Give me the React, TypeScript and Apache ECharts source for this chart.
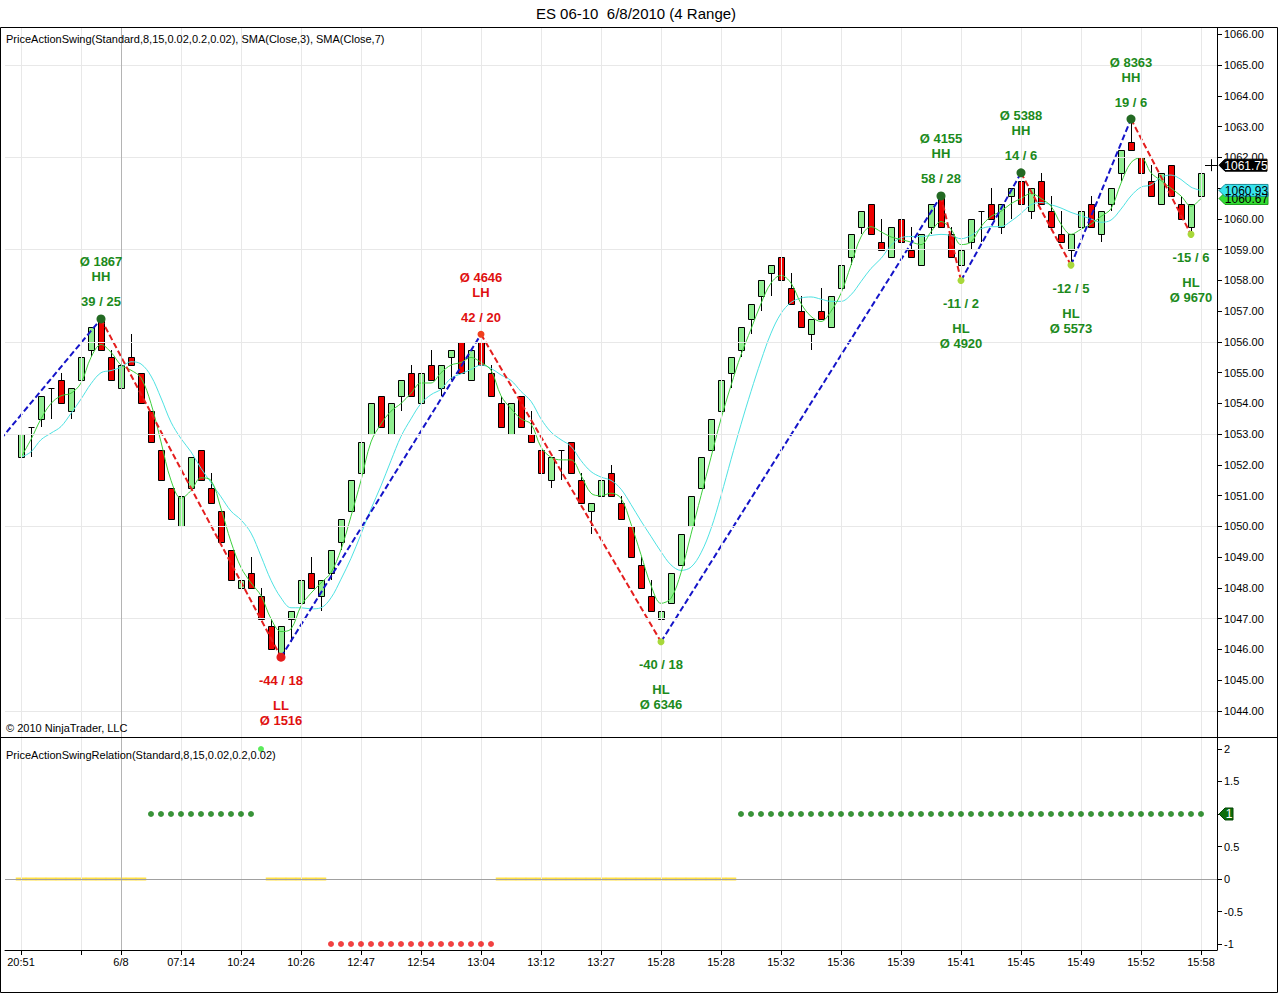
import React, { useEffect, useRef } from "react";
import * as echarts from "echarts";

// ---------- DATA ----------
// closes of the bars just before the visible window (needed by the SMAs)
const priorCloses = [1052.0, 1051.5, 1053.0, 1052.5, 1051.5, 1052.25];

const opens = [
  1052.25, 1053.25, 1053.5, 1054.5, 1054.75, 1053.75, 1054.75, 1055.75, 1056.75, 1055.5,
  1054.5, 1055.5, 1055.0, 1053.75, 1052.5, 1051.25, 1050.0, 1051.25, 1052.5, 1051.25,
  1050.5, 1049.25, 1048.0, 1048.5, 1047.75, 1046.75, 1045.75, 1047.0, 1047.5, 1048.5,
  1047.75, 1048.5, 1049.5, 1050.5, 1051.75, 1053.0, 1054.25, 1053.0, 1054.25, 1055.0,
  1054.0, 1055.25, 1054.5, 1055.5, 1056.0, 1054.75, 1056.0, 1055.0, 1054.0, 1053.0,
  1054.25, 1053.0, 1052.5, 1051.5, 1052.5, 1052.75, 1051.5, 1050.5, 1051.0, 1051.75,
  1050.75, 1050.0, 1048.75, 1047.75, 1047.0, 1047.5, 1048.75, 1050.0, 1051.25, 1052.5,
  1053.75, 1055.0, 1055.75, 1056.75, 1057.5, 1058.25, 1058.75, 1057.75, 1057.0, 1056.25,
  1057.0, 1056.5, 1057.75, 1058.75, 1059.75, 1060.5, 1059.25, 1058.75, 1060.0, 1059.0,
  1058.5, 1059.75, 1060.75, 1059.5, 1058.5, 1059.25, 1060.25, 1060.5, 1059.75, 1060.75,
  1061.25, 1060.25, 1061.25, 1060.25, 1059.5, 1059.0, 1059.75, 1060.5, 1059.5, 1060.5,
  1061.5, 1062.5, 1062.0, 1061.25, 1060.5, 1061.75, 1060.5, 1059.75, 1060.75,
];
const highs = [
  1053.0, 1053.25, 1054.25, 1054.5, 1055.0, 1054.5, 1055.5, 1056.5, 1056.75, 1055.75,
  1055.25, 1056.25, 1055.0, 1053.75, 1052.5, 1051.25, 1051.0, 1052.25, 1052.5, 1051.75,
  1050.5, 1049.25, 1048.25, 1049.0, 1048.0, 1047.0, 1046.75, 1047.25, 1048.25, 1049.0,
  1048.25, 1049.25, 1050.25, 1051.5, 1052.75, 1054.0, 1054.25, 1054.0, 1054.75, 1055.25,
  1055.0, 1055.75, 1055.25, 1055.75, 1056.0, 1055.75, 1056.25, 1055.25, 1054.25, 1054.0,
  1054.25, 1053.75, 1052.75, 1052.25, 1052.5, 1052.75, 1051.75, 1050.75, 1051.5, 1052.0,
  1051.0, 1050.0, 1049.0, 1048.25, 1047.25, 1048.5, 1049.75, 1051.0, 1052.25, 1053.5,
  1054.75, 1055.5, 1056.5, 1057.25, 1058.0, 1058.5, 1059.0, 1058.25, 1057.5, 1056.75,
  1057.75, 1057.5, 1058.5, 1059.5, 1060.25, 1060.5, 1060.0, 1059.75, 1060.25, 1059.75,
  1059.5, 1060.5, 1060.75, 1059.75, 1059.0, 1060.0, 1060.25, 1061.0, 1060.5, 1061.0,
  1061.5, 1061.0, 1061.5, 1060.75, 1060.25, 1059.5, 1060.25, 1060.75, 1060.25, 1061.0,
  1062.25, 1063.25, 1062.5, 1061.75, 1061.5, 1061.75, 1060.75, 1060.5, 1061.5,
];
const lows = [
  1052.0, 1052.25, 1053.25, 1053.5, 1054.0, 1053.5, 1054.5, 1055.5, 1055.75, 1054.75,
  1054.25, 1055.25, 1054.0, 1052.75, 1051.5, 1050.25, 1050.0, 1051.25, 1051.5, 1050.75,
  1049.5, 1048.25, 1047.25, 1048.0, 1047.0, 1046.0, 1045.75, 1046.25, 1047.25, 1048.0,
  1047.25, 1048.25, 1049.25, 1050.5, 1051.75, 1053.0, 1053.25, 1053.0, 1053.75, 1054.25,
  1054.0, 1054.75, 1054.25, 1054.75, 1055.0, 1054.75, 1055.25, 1054.25, 1053.25, 1053.0,
  1053.25, 1052.75, 1051.75, 1051.25, 1051.5, 1051.75, 1050.75, 1049.75, 1050.5, 1051.0,
  1050.25, 1049.0, 1048.0, 1047.25, 1046.25, 1047.5, 1048.75, 1050.0, 1051.25, 1052.5,
  1053.75, 1054.5, 1055.5, 1056.25, 1057.0, 1057.5, 1058.0, 1057.25, 1056.5, 1055.75,
  1056.75, 1056.5, 1057.5, 1058.5, 1059.5, 1059.5, 1059.0, 1058.75, 1059.25, 1058.75,
  1058.5, 1059.5, 1059.75, 1058.75, 1058.0, 1059.0, 1059.25, 1060.0, 1059.5, 1060.0,
  1060.5, 1060.0, 1060.5, 1059.75, 1059.25, 1058.5, 1059.75, 1059.75, 1059.25, 1060.25,
  1061.25, 1062.25, 1061.5, 1060.75, 1060.5, 1060.75, 1060.0, 1059.5, 1060.5,
];
const closes = [
  1053.0, 1053.25, 1054.25, 1054.5, 1054.0, 1054.5, 1055.5, 1056.5, 1055.75, 1054.75,
  1055.25, 1055.25, 1054.0, 1052.75, 1051.5, 1050.25, 1051.0, 1052.25, 1051.5, 1050.75,
  1049.5, 1048.25, 1048.25, 1048.0, 1047.0, 1046.0, 1046.75, 1047.25, 1048.25, 1048.0,
  1048.25, 1049.25, 1050.25, 1051.5, 1052.75, 1054.0, 1053.25, 1054.0, 1054.75, 1054.25,
  1055.0, 1054.75, 1055.25, 1055.75, 1055.0, 1055.75, 1055.25, 1054.25, 1053.25, 1054.0,
  1053.25, 1052.75, 1051.75, 1052.25, 1052.5, 1051.75, 1050.75, 1050.75, 1051.5, 1051.0,
  1050.25, 1049.0, 1048.0, 1047.25, 1047.25, 1048.5, 1049.75, 1051.0, 1052.25, 1053.5,
  1054.75, 1055.5, 1056.5, 1057.25, 1058.0, 1058.5, 1058.0, 1057.25, 1056.5, 1056.75,
  1056.75, 1057.5, 1058.5, 1059.5, 1060.25, 1059.5, 1059.0, 1059.75, 1059.25, 1058.75,
  1059.5, 1060.5, 1059.75, 1058.75, 1059.0, 1060.0, 1060.25, 1060.0, 1060.5, 1061.0,
  1060.5, 1061.0, 1060.5, 1059.75, 1059.25, 1059.5, 1060.25, 1059.75, 1060.25, 1061.0,
  1062.25, 1062.25, 1061.5, 1060.75, 1061.5, 1060.75, 1060.0, 1060.5, 1061.5,
];

// x axis ticks (bar index -> label)
const tickIdx = [0, 6, 10, 16, 22, 28, 34, 40, 46, 52, 58, 64, 70, 76, 82, 88, 94, 100, 106, 112, 118];
const tickLabels = [
  "20:51", "", "6/8", "07:14", "10:24", "10:26", "12:47", "12:54", "13:04", "13:12", "13:27",
  "15:28", "15:28", "15:32", "15:36", "15:39", "15:41", "15:45", "15:49", "15:52", "15:58",
];
const sessionBreakIdx = 10;

const priceTicks = [
  1044, 1045, 1046, 1047, 1048, 1049, 1050, 1051, 1052, 1053, 1054,
  1055, 1056, 1057, 1058, 1059, 1060, 1061, 1062, 1063, 1064, 1065, 1066,
];
const priceGridLines = [1044, 1047, 1050, 1053, 1056, 1059, 1062, 1065];
const relationTicks = [-1, -0.5, 0, 0.5, 1, 1.5, 2];

// swing points
const prevSwingIdx = -17;
const prevSwingPrice = 1047.0;
const swingIdx = [8, 26, 46, 64, 92, 94, 100, 105, 111, 117];
const swingPrice = [1056.75, 1045.75, 1056.25, 1046.25, 1060.75, 1058.0, 1061.5, 1058.5, 1063.25, 1059.5];
const swingType = ["HH", "LL", "LH", "HL", "HH", "HL", "HH", "HL", "HH", "HL"];
const swingMove = ["39 / 25", "-44 / 18", "42 / 20", "-40 / 18", "58 / 28", "-11 / 2", "14 / 6", "-12 / 5", "19 / 6", "-15 / 6"];
const swingVol = ["Ø 1867", "Ø 1516", "Ø 4646", "Ø 6346", "Ø 4155", "Ø 4920", "Ø 5388", "Ø 5573", "Ø 8363", "Ø 9670"];

// PriceActionSwingRelation values per bar
const relation = [
  0, 0, 0, 0, 0, 0, 0, 0, 0, 0,
  0, 0, 0, 1, 1, 1, 1, 1, 1, 1,
  1, 1, 1, 1, 2, 0, 0, 0, 0, 0,
  0, -1, -1, -1, -1, -1, -1, -1, -1, -1,
  -1, -1, -1, -1, -1, -1, -1, -1, 0, 0,
  0, 0, 0, 0, 0, 0, 0, 0, 0, 0,
  0, 0, 0, 0, 0, 0, 0, 0, 0, 0,
  0, 0, 1, 1, 1, 1, 1, 1, 1, 1,
  1, 1, 1, 1, 1, 1, 1, 1, 1, 1,
  1, 1, 1, 1, 1, 1, 1, 1, 1, 1,
  1, 1, 1, 1, 1, 1, 1, 1, 1, 1,
  1, 1, 1, 1, 1, 1, 1, 1, 1,
];

const lastPrice = 1061.75;

const titleText = "ES 06-10  6/8/2010 (4 Range)";
const mainLabel = "PriceActionSwing(Standard,8,15,0.02,0.2,0.02), SMA(Close,3), SMA(Close,7)";
const subLabel = "PriceActionSwingRelation(Standard,8,15,0.02,0.2,0.02)";
const copyright = "© 2010 NinjaTrader, LLC";

// ---------- STYLE ----------
const FONT = '"Liberation Sans", Arial, Helvetica, sans-serif';
const UP_FILL = "#90EE90";
const DOWN_FILL = "#EE0000";
const GREEN_TXT = "#1C8A1C";
const RED_TXT = "#E01010";
const X_MIN = -1.6;
const X_MAX = 119.6;

function smaOf(n: number) {
  const all = priorCloses.concat(closes);
  const off = priorCloses.length;
  return closes.map((_, i) => {
    let s = 0;
    for (let k = 0; k < n; k++) s += all[i + off - k];
    return [i, s / n];
  });
}

export default function App() {
  const ref = useRef<HTMLDivElement>(null);

  useEffect(() => {
    const el = ref.current;
    if (!el) return;
    const chart = echarts.init(el, null, { renderer: "svg" });

    const sma3 = smaOf(3);
    const sma7 = smaOf(7);

    const pivots: number[][] = [[prevSwingIdx, prevSwingPrice]].concat(
      swingIdx.map((x, k) => [x, swingPrice[k]])
    );
    const legSeries = pivots.slice(0, -1).map((p, k) => {
      const q = pivots[k + 1];
      const up = q[1] > p[1];
      return {
        type: "line",
        xAxisIndex: 0,
        yAxisIndex: 0,
        data: [p, q],
        showSymbol: false,
        symbol: "none",
        silent: true,
        clip: true,
        z: 4,
        lineStyle: { color: up ? "#1414C8" : "#E41E1E", width: 2, type: [6, 3] },
      };
    });

    const vGrid = tickIdx.map((v) => ({
      xAxis: v,
      lineStyle: { color: v === sessionBreakIdx ? "#B4B4B4" : "#E8E8E8", width: 1, type: "solid" },
    }));

    const markBase = {
      symbol: ["none", "none"],
      silent: true,
      label: { show: false },
      emphasis: { disabled: true },
      animation: false,
    };

    const option: any = {
      animation: false,
      backgroundColor: "#ffffff",
      textStyle: { fontFamily: FONT },
      grid: [
        { left: 5, right: 63, top: 28, height: 709, outerBoundsMode: "none", containLabel: false },
        { left: 5, right: 63, top: 738, height: 212, outerBoundsMode: "none", containLabel: false },
      ],
      xAxis: [
        {
          type: "value",
          gridIndex: 0,
          min: X_MIN,
          max: X_MAX,
          show: false,
          splitLine: { show: false },
        },
        {
          type: "value",
          gridIndex: 1,
          min: X_MIN,
          max: X_MAX,
          axisLine: { show: true, onZero: false, lineStyle: { color: "#000", width: 1 } },
          axisTick: { show: true, customValues: tickIdx, length: 5, lineStyle: { color: "#000" } },
          axisLabel: {
            show: true,
            customValues: tickIdx,
            color: "#000",
            fontSize: 11,
            fontFamily: FONT,
            margin: 6,
            formatter: (v: number) => {
              const k = tickIdx.indexOf(Math.round(v));
              return k >= 0 ? tickLabels[k] : "";
            },
          },
          splitLine: { show: false },
        },
      ],
      yAxis: [
        {
          type: "value",
          gridIndex: 0,
          position: "right",
          min: 1043.154,
          max: 1066.211,
          axisLine: { show: true, onZero: false, lineStyle: { color: "#000", width: 1 } },
          axisTick: { show: true, customValues: priceTicks, length: 5, lineStyle: { color: "#000" } },
          axisLabel: {
            show: true,
            customValues: priceTicks,
            color: "#000",
            fontSize: 11,
            fontFamily: FONT,
            margin: 7,
            formatter: (v: number) => v.toFixed(2),
          },
          splitLine: { show: false },
        },
        {
          type: "value",
          gridIndex: 1,
          position: "right",
          min: -1.092,
          max: 2.169,
          axisLine: { show: true, onZero: false, lineStyle: { color: "#000", width: 1 } },
          axisTick: { show: true, customValues: relationTicks, length: 5, lineStyle: { color: "#000" } },
          axisLabel: {
            show: true,
            customValues: relationTicks,
            color: "#000",
            fontSize: 11,
            fontFamily: FONT,
            margin: 7,
            formatter: (v: number) => String(v),
          },
          splitLine: { show: false },
        },
      ],
      series: [
        // grid lines main pane
        {
          type: "line",
          xAxisIndex: 0,
          yAxisIndex: 0,
          data: [[0, closes[0]]],
          showSymbol: false,
          symbol: "none",
          lineStyle: { opacity: 0 },
          silent: true,
          z: 1,
          markLine: {
            ...markBase,
            data: [
              ...priceGridLines.map((v) => ({ yAxis: v, lineStyle: { color: "#E8E8E8", width: 1, type: "solid" } })),
              ...vGrid,
            ],
          },
        },
        // grid lines lower pane
        {
          type: "line",
          xAxisIndex: 1,
          yAxisIndex: 1,
          data: [[0, 0]],
          showSymbol: false,
          symbol: "none",
          lineStyle: { opacity: 0 },
          silent: true,
          z: 1,
          markLine: {
            ...markBase,
            data: [...vGrid, { yAxis: 0, lineStyle: { color: "#A0A0A0", width: 1, type: "solid" } }],
          },
        },
        // candles
        {
          type: "custom",
          xAxisIndex: 0,
          yAxisIndex: 0,
          silent: true,
          clip: true,
          z: 2,
          data: opens.map((o, i) => [i, o, closes[i], lows[i], highs[i]]),
          encode: { x: 0, y: [1, 2, 3, 4] },
          renderItem: (params: any, api: any) => {
            const i = api.value(0);
            const o = api.value(1);
            const c = api.value(2);
            const l = api.value(3);
            const h = api.value(4);
            const pO = api.coord([i, o]);
            const pC = api.coord([i, c]);
            const pL = api.coord([i, l]);
            const pH = api.coord([i, h]);
            const x = Math.round(pO[0]) + 0.5;
            const children: any[] = [
              {
                type: "line",
                shape: { x1: x, y1: Math.round(pH[1]), x2: x, y2: Math.round(pL[1]) },
                style: { stroke: "#000", lineWidth: 1 },
              },
            ];
            if (o === c) {
              const y = Math.round(pO[1]) + 0.5;
              children.push({
                type: "line",
                shape: { x1: x - 3, y1: y, x2: x + 3, y2: y },
                style: { stroke: "#000", lineWidth: 1 },
              });
            } else {
              const top = Math.round(Math.min(pO[1], pC[1])) + 0.5;
              const bot = Math.round(Math.max(pO[1], pC[1])) + 0.5;
              children.push({
                type: "rect",
                shape: { x: x - 3, y: top, width: 6, height: bot - top },
                style: { fill: c > o ? UP_FILL : DOWN_FILL, stroke: "#000", lineWidth: 1 },
              });
            }
            return { type: "group", children };
          },
        },
        // SMA 7
        {
          type: "line",
          xAxisIndex: 0,
          yAxisIndex: 0,
          data: sma7,
          showSymbol: false,
          symbol: "none",
          smooth: 0.35,
          silent: true,
          z: 3,
          lineStyle: { color: "#4EE2E2", width: 1 },
        },
        // SMA 3
        {
          type: "line",
          xAxisIndex: 0,
          yAxisIndex: 0,
          data: sma3,
          showSymbol: false,
          symbol: "none",
          smooth: 0.35,
          silent: true,
          z: 3,
          lineStyle: { color: "#3CCF3C", width: 1 },
        },
        ...legSeries,
        // swing dots and labels
        {
          type: "custom",
          xAxisIndex: 0,
          yAxisIndex: 0,
          silent: true,
          clip: false,
          z: 6,
          data: swingIdx.map((x, k) => [x, swingPrice[k], k]),
          encode: { x: 0, y: 1 },
          renderItem: (params: any, api: any) => {
            const k = api.value(2);
            const pt = api.coord([api.value(0), api.value(1)]);
            const t = swingType[k];
            const isHigh = t === "HH" || t === "LH";
            const txtColor = t === "HH" || t === "HL" ? GREEN_TXT : RED_TXT;
            const dotColor = t === "HH" ? "#236A23" : t === "LL" ? "#E51B1B" : t === "LH" ? "#F0401E" : "#A8D83A";
            const r = t === "HH" || t === "LL" ? 4.5 : 3.5;
            const offs = isHigh ? [-17, -42, -57] : [23, 48, 63];
            const mk = (str: string, dy: number) => ({
              type: "text",
              style: {
                text: str,
                x: pt[0],
                y: pt[1] + dy,
                fill: txtColor,
                font: `bold 13px ${FONT}`,
                align: "center",
                verticalAlign: "middle",
              },
            });
            return {
              type: "group",
              children: [
                { type: "circle", shape: { cx: pt[0], cy: pt[1], r }, style: { fill: dotColor } },
                mk(swingMove[k], offs[0]),
                mk(t, offs[1]),
                mk(swingVol[k], offs[2]),
              ],
            };
          },
        },
        // relation: neutral (yellow dashes)
        {
          type: "scatter",
          xAxisIndex: 1,
          yAxisIndex: 1,
          symbol: "rect",
          symbolSize: [10.5, 3],
          silent: true,
          z: 4,
          data: relation.map((v, i) => [i, v]).filter((d) => d[1] === 0),
          itemStyle: { color: "#FFD81A" },
        },
        // relation: dots
        {
          type: "scatter",
          xAxisIndex: 1,
          yAxisIndex: 1,
          symbol: "circle",
          symbolSize: 6,
          silent: true,
          z: 5,
          data: relation
            .map((v, i) =>
              v !== 0
                ? {
                    value: [i, v],
                    itemStyle: { color: v === 1 ? "#087808" : v === -1 ? "#EE1111" : "#33E633" },
                  }
                : null
            )
            .filter((d) => d !== null),
        },
      ],
    };

    chart.setOption(option);

    const sma3Last = sma3[sma3.length - 1][1];
    const sma7Last = sma7[sma7.length - 1][1];
    const lastRel = relation[relation.length - 1];
    const yLast = chart.convertToPixel({ yAxisIndex: 0 }, lastPrice) as number;
    const y3 = chart.convertToPixel({ yAxisIndex: 0 }, sma3Last) as number;
    const y7 = chart.convertToPixel({ yAxisIndex: 0 }, sma7Last) as number;
    const yRel = chart.convertToPixel({ yAxisIndex: 1 }, lastRel) as number;
    const xCross = chart.convertToPixel({ xAxisIndex: 0 }, closes.length) as number;

    const tag = (y: number, w: number, fill: string, stroke: string, text: string, color: string) => {
      const x0 = 1219;
      return [
        {
          type: "polygon",
          z: 100,
          shape: {
            points: [
              [x0, y],
              [x0 + 6, y - 6],
              [x0 + w, y - 6],
              [x0 + w, y + 6],
              [x0 + 6, y + 6],
            ],
          },
          style: { fill, stroke, lineWidth: 1 },
        },
        {
          type: "text",
          z: 101,
          style: {
            text,
            x: x0 + 6 + (w - 6) / 2,
            y: y + 0.5,
            fill: color,
            font: `12px ${FONT}`,
            align: "center",
            verticalAlign: "middle",
          },
        },
      ];
    };

    const graphics: any[] = [
      {
        type: "rect",
        z: 50,
        shape: { x: 0.5, y: 27.5, width: 1277, height: 965 },
        style: { fill: "none", stroke: "#000", lineWidth: 1 },
      },
      {
        type: "line",
        z: 50,
        shape: { x1: 0, y1: 737.5, x2: 1278, y2: 737.5 },
        style: { stroke: "#000", lineWidth: 1 },
      },
      {
        type: "text",
        z: 50,
        style: { text: titleText, x: 636, y: 13, fill: "#000", font: `15px ${FONT}`, align: "center", verticalAlign: "middle" },
      },
      {
        type: "text",
        z: 50,
        style: { text: mainLabel, x: 6, y: 39, fill: "#000", font: `11px ${FONT}`, align: "left", verticalAlign: "middle" },
      },
      {
        type: "text",
        z: 50,
        style: { text: copyright, x: 6, y: 728, fill: "#000", font: `11px ${FONT}`, align: "left", verticalAlign: "middle" },
      },
      {
        type: "text",
        z: 50,
        style: { text: subLabel, x: 6, y: 755, fill: "#000", font: `11px ${FONT}`, align: "left", verticalAlign: "middle" },
      },
      ...tag(y3, 49, "#33DD33", "#1E9E1E", sma3Last.toFixed(2), "#000"),
      ...tag(y7, 49, "#38E4EE", "#1B8F9A", sma7Last.toFixed(2), "#000"),
      ...tag(yLast, 48, "#000000", "#000000", lastPrice.toFixed(2), "#ffffff"),
      ...tag(yRel, 14, "#0B6E0B", "#064406", String(lastRel), "#ffffff"),
      {
        type: "line",
        z: 60,
        shape: { x1: Math.round(xCross) + 0.5, y1: yLast - 6, x2: Math.round(xCross) + 0.5, y2: yLast + 6 },
        style: { stroke: "#000", lineWidth: 1 },
      },
      {
        type: "line",
        z: 60,
        shape: { x1: xCross - 6, y1: Math.round(yLast) + 0.5, x2: xCross + 6, y2: Math.round(yLast) + 0.5 },
        style: { stroke: "#000", lineWidth: 1 },
      },
    ];

    chart.setOption({ graphic: graphics });

    return () => {
      chart.dispose();
    };
  }, []);

  return (
    <div
      ref={ref}
      style={{ position: "fixed", left: 0, top: 0, width: 1280, height: 994, background: "#ffffff" }}
    />
  );
}
